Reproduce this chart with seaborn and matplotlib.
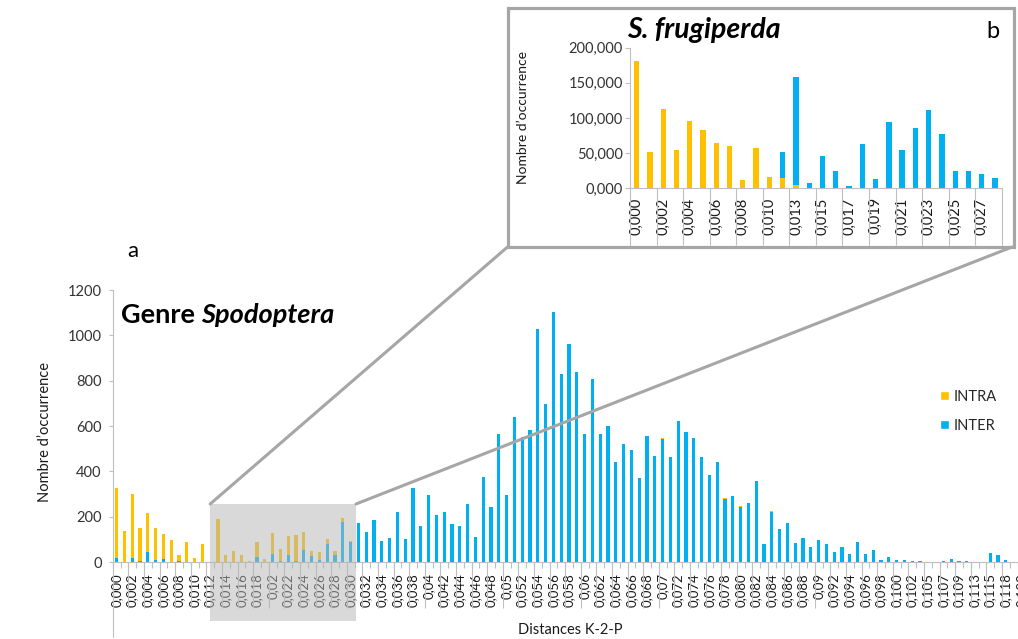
import numpy as np
import matplotlib
matplotlib.use("Agg")
import matplotlib.pyplot as plt
import seaborn as sns
from matplotlib.patches import Rectangle, Patch, ConnectionPatch
from matplotlib.ticker import FuncFormatter

sns.set_style("white")
plt.rcParams["font.family"] = ["Lato", "DejaVu Sans"]

W, H, DPI = 1018, 639, 100
INTRA_COLOR = "#FFC000"
INTER_COLOR = "#00B0F0"
GRID_GREY = "#BFBFBF"
FRAME_GREY = "#A6A6A6"
TEXT = "#1A1A1A"

# ---- Genre Spodoptera: pairwise K-2-P distance classes ----
distances = [
    "0,000", "0,001", "0,002", "0,003", "0,004", "0,005", "0,006", "0,007", "0,008", "0,009",
    "0,010", "0,011", "0,012", "0,013", "0,014", "0,015", "0,016", "0,017", "0,018", "0,019",
    "0,02", "0,021", "0,022", "0,023", "0,024", "0,025", "0,026", "0,027", "0,028", "0,029",
    "0,030", "0,031", "0,032", "0,033", "0,034", "0,035", "0,036", "0,037", "0,038", "0,039",
    "0,04", "0,041", "0,042", "0,043", "0,044", "0,045", "0,046", "0,047", "0,048", "0,049",
    "0,05", "0,051", "0,052", "0,053", "0,054", "0,055", "0,056", "0,057", "0,058", "0,059",
    "0,06", "0,061", "0,062", "0,063", "0,064", "0,065", "0,066", "0,067", "0,068", "0,069",
    "0,07", "0,071", "0,072", "0,073", "0,074", "0,075", "0,076", "0,077", "0,078", "0,079",
    "0,080", "0,081", "0,082", "0,083", "0,084", "0,085", "0,086", "0,087", "0,088", "0,089",
    "0,09", "0,091", "0,092", "0,093", "0,094", "0,095", "0,096", "0,097", "0,098", "0,099",
    "0,100", "0,101", "0,102", "0,103", "0,105", "0,106", "0,107", "0,108", "0,109", "0,111",
    "0,113", "0,114", "0,115", "0,116", "0,118", "0,119", "0,120", "0,121",
]
inter = [
    16, 0, 16, 4, 44, 7, 12, 0, 3, 0,
    0, 0, 0, 0, 0, 0, 0, 0, 21, 0,
    37, 4, 29, 4, 51, 25, 9, 79, 29, 178,
    87, 171, 131, 185, 91, 107, 221, 101, 328, 157,
    296, 207, 221, 168, 157, 257, 110, 376, 243, 565,
    296, 641, 553, 582, 1026, 697, 1103, 829, 963, 838,
    565, 807, 565, 601, 440, 522, 494, 369, 556, 468,
    543, 462, 622, 572, 546, 462, 382, 440, 278, 290,
    243, 259, 357, 79, 219, 147, 171, 84, 104, 68,
    97, 79, 44, 68, 37, 90, 35, 53, 10, 21,
    7, 7, 4, 4, 0, 0, 4, 13, 4, 4,
    0, 0, 38, 31, 10, 0, 0, 0,
]
intra = [
    309, 135, 283, 147, 171, 142, 110, 96, 26, 87,
    16, 79, 0, 191, 32, 47, 29, 4, 66, 12,
    92, 55, 87, 115, 80, 22, 34, 24, 18, 18,
    4, 0, 0, 0, 0, 0, 0, 0, 0, 0,
    0, 0, 0, 0, 0, 0, 0, 0, 0, 0,
    0, 0, 0, 0, 0, 0, 0, 0, 0, 0,
    0, 0, 0, 0, 0, 0, 0, 0, 0, 0,
    4, 0, 0, 0, 0, 0, 0, 0, 4, 0,
    4, 0, 0, 0, 4, 0, 0, 0, 0, 0,
    0, 0, 0, 0, 0, 0, 0, 0, 0, 0,
    0, 0, 0, 0, 0, 0, 0, 0, 0, 0,
    0, 0, 0, 0, 0, 0, 0, 0,
]
main_yticks = [0, 200, 400, 600, 800, 1000, 1200]

# ---- S. frugiperda detail ----
sf_distances = [
    "0,000", "0,001", "0,002", "0,003", "0,004", "0,005", "0,006", "0,007", "0,008", "0,009",
    "0,010", "0,012", "0,013", "0,014", "0,015", "0,016", "0,017", "0,018", "0,019", "0,020",
    "0,021", "0,022", "0,023", "0,024", "0,025", "0,026", "0,027", "0,028",
]
sf_intra = [181, 51.7, 112.8, 55, 95.7, 83, 64.5, 60.7, 11.8, 57.3,
            16.6, 14.2, 4.7, 0, 0, 0, 0, 0, 0, 0,
            0, 0, 0, 0, 0, 0, 0, 0]
sf_inter = [0, 0, 0, 0, 0, 0, 0, 0, 0, 0,
            0, 37.5, 154, 8, 46, 25, 3.8, 62.6, 13.3, 93.8,
            55, 85.3, 110.9, 76.8, 24.2, 24.2, 19.9, 14.2]
sf_yticks = [0, 50, 100, 150, 200]


def fx(px):
    return px / W


def fy(py):
    return 1 - py / H


fig = plt.figure(figsize=(W / DPI, H / DPI), dpi=DPI)

# ================= main histogram =================
n = len(distances)
step = 7.8
ax = fig.add_axes([fx(112.7), fy(562), n * step / W, (562 - 290) / H])
total = np.array(inter) + np.array(intra)
bar_kw = dict(order=distances, saturation=1, width=0.4, errorbar=None, linewidth=0, ax=ax)
sns.barplot(x=distances, y=total, color=INTRA_COLOR, **bar_kw)
sns.barplot(x=distances, y=inter, color=INTER_COLOR, **bar_kw)

ax.set_xlim(-0.5, n - 0.5)
ax.set_ylim(0, 1200)
ax.set_yticks(main_yticks)
lab_idx = list(range(0, n, 2))
ax.set_xticks(lab_idx)
ax.set_xticklabels([distances[i] for i in lab_idx], rotation=90, fontsize=9.5, color=TEXT)
ax.set_xticks(np.arange(-0.5, n, 1), minor=True)
ax.tick_params(axis="x", which="major", length=0, pad=8, bottom=True)
ax.tick_params(axis="x", which="minor", length=4, width=0.8, color=GRID_GREY, bottom=True)
ax.tick_params(axis="y", length=3, width=0.8, color=GRID_GREY, pad=5, labelsize=10.5,
               labelcolor="#333333", left=True)
for s in ("top", "right"):
    ax.spines[s].set_visible(False)
for s in ("left", "bottom"):
    ax.spines[s].set_color(GRID_GREY)
    ax.spines[s].set_linewidth(0.8)

xt = ax.get_xaxis_transform()
ax.vlines(np.arange(1.5, n, 2), -0.169, 0, transform=xt, colors=GRID_GREY, lw=0.8, clip_on=False)
ax.plot([-0.5, -0.5], [-0.276, 0], transform=xt, color=GRID_GREY, lw=0.8, clip_on=False)

ax.set_ylabel("Nombre d’occurrence", fontsize=10.5, color=TEXT)
ax.yaxis.set_label_coords(fx(45), fy(432), transform=fig.transFigure)
ax.yaxis.label.set_verticalalignment("center")
ax.set_xlabel("Distances K-2-P", fontsize=10.5, color=TEXT)
ax.xaxis.set_label_coords(fx(570), fy(630), transform=fig.transFigure)
ax.xaxis.label.set_verticalalignment("center")

# zoomed region highlight
zoom_x0, zoom_x1, zoom_top, zoom_bot = 12.0, 30.7, 256, -260
fig.add_artist(Rectangle((zoom_x0, zoom_bot), zoom_x1 - zoom_x0, zoom_top - zoom_bot,
                         transform=ax.transData, facecolor="#B7B7B7", alpha=0.52,
                         edgecolor="none", zorder=4))

# ================= S. frugiperda inset =================
frame = Rectangle((fx(507.5), fy(246.5)), fx(1013.5) - fx(507.5), fy(8.5) - fy(246.5),
                  transform=fig.transFigure, facecolor="white", edgecolor=FRAME_GREY,
                  linewidth=2.3, zorder=-1)
fig.add_artist(frame)

m = len(sf_distances)
axi = fig.add_axes([fx(630), fy(188.3), (1001.7 - 630) / W, (188.3 - 47.7) / H])
axi.set_facecolor("none")
sf_total = np.array(sf_intra) + np.array(sf_inter)
ibar_kw = dict(order=sf_distances, saturation=1, width=0.4, errorbar=None, linewidth=0, ax=axi)
sns.barplot(x=sf_distances, y=sf_total, color=INTER_COLOR, **ibar_kw)
sns.barplot(x=sf_distances, y=sf_intra, color=INTRA_COLOR, **ibar_kw)
axi.set_xlim(-0.5, m - 0.5)
axi.set_ylim(0, 200)
axi.set_yticks(sf_yticks)
axi.yaxis.set_major_formatter(FuncFormatter(lambda v, p: f"{v:.3f}".replace(".", ",")))
ilab = list(range(0, m, 2))
axi.set_xticks(ilab)
axi.set_xticklabels([sf_distances[i] for i in ilab], rotation=90, fontsize=10.5, color=TEXT)
axi.tick_params(axis="x", length=0, pad=6.5, bottom=True)
axi.tick_params(axis="y", length=3.5, width=0.8, color=GRID_GREY, pad=1.5, labelsize=10.5,
                labelcolor="#333333", left=True)
for s in ("top", "right"):
    axi.spines[s].set_visible(False)
for s in ("left", "bottom"):
    axi.spines[s].set_color(GRID_GREY)
    axi.spines[s].set_linewidth(0.8)
xti = axi.get_xaxis_transform()
axi.vlines(np.arange(1.5, m, 2), -0.403, 0, transform=xti, colors=GRID_GREY, lw=0.8, clip_on=False)
axi.plot([-0.5, -0.5], [-0.403, 0], transform=xti, color=GRID_GREY, lw=0.8, clip_on=False)
axi.set_ylabel("Nombre d’occurrence", fontsize=10, color=TEXT)
axi.yaxis.set_label_coords(fx(523), fy(118), transform=fig.transFigure)
axi.yaxis.label.set_verticalalignment("center")

# connectors from highlighted region to the inset frame
for xa, xb in ((zoom_x0, fx(507.5)), (zoom_x1, fx(1012))):
    con = ConnectionPatch(xyA=(xa, zoom_top), coordsA=ax.transData,
                          xyB=(xb, fy(247)), coordsB=fig.transFigure,
                          color=FRAME_GREY, linewidth=2.2, zorder=5)
    fig.add_artist(con)

# ================= titles, panel letters, legend =================
fig.text(fx(133), fy(251), "a", fontsize=16, ha="center", va="center", color="black")
fig.text(fx(993), fy(32), "b", fontsize=17, ha="center", va="center", color="black")

TITLE_SIZE = 19.5
t1 = fig.text(fx(120.7), fy(323.3), "Genre", fontsize=TITLE_SIZE, fontweight="bold",
              va="baseline", color="black")
fig.canvas.draw()
ext = t1.get_window_extent(renderer=fig.canvas.get_renderer())
fig.text((ext.x1 + 0.24 * TITLE_SIZE * DPI / 72) / W, fy(323.3), "Spodoptera",
         fontsize=TITLE_SIZE, fontweight="bold", fontstyle="italic", va="baseline",
         color="black")

fig.text(fx(627), fy(38.3), "S. frugiperda", fontsize=20.5, fontweight="bold",
         fontstyle="italic", va="baseline", color="black")

fig.legend(handles=[Patch(facecolor=INTRA_COLOR), Patch(facecolor=INTER_COLOR)],
           labels=["INTRA", "INTER"], loc="upper left", bbox_to_anchor=(fx(940), fy(390)),
           frameon=False, handlelength=0.6, handleheight=0.6, handletextpad=0.35,
           labelspacing=1.0, borderpad=0, borderaxespad=0, fontsize=10.5)

fig.savefig("out.png", dpi=DPI)
